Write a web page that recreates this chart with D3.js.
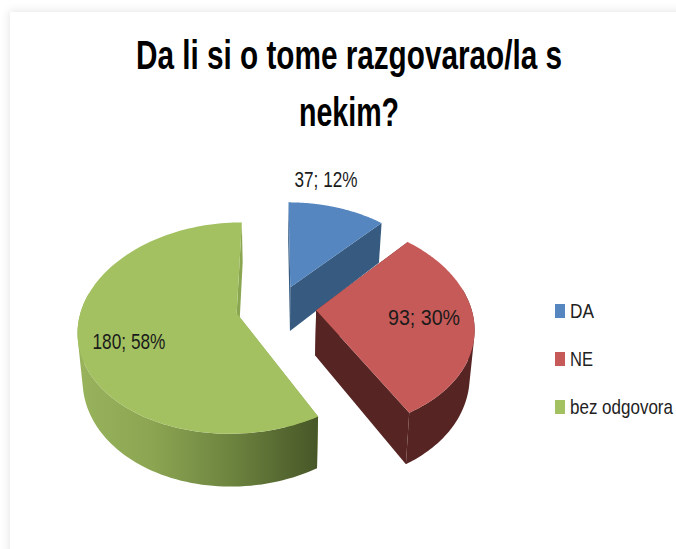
<!DOCTYPE html>
<html><head><meta charset="utf-8">
<style>html,body{margin:0;padding:0;background:#fff}svg{display:block}text{font-family:"Liberation Sans",sans-serif}</style>
<script src="https://d3js.org/d3.v7.min.js"></script></head>
<body><div id="c"></div>
<script>
const titleLines = ["Da li si o tome razgovarao/la s", "nekim?"];
const categories = ["DA", "NE", "bez odgovora"];
const values = [37, 93, 180];
const percents = [12, 30, 58];
const topColors = ["#5586c0", "#c65a58", "#a3c161"];
const wallColors = ["#365a80", "#562422", "#8ba650"];

const W = 676, H = 549;
const svg = d3.select("#c").append("svg").attr("width", W).attr("height", H);
const defs = svg.append("defs");
const sh = defs.append("filter").attr("id","sh").attr("x","-5%").attr("y","-5%").attr("width","110%").attr("height","110%");
sh.append("feDropShadow").attr("dx",-1).attr("dy",-1).attr("stdDeviation",4).attr("flood-color","#000").attr("flood-opacity",0.1);
svg.append("rect").attr("width",W).attr("height",H).attr("fill","#fff");
svg.append("rect").attr("x",10).attr("y",12).attr("width",W+40).attr("height",H+40).attr("fill","#fff").attr("filter","url(#sh)");

const grad = defs.append("linearGradient").attr("id","gw").attr("gradientUnits","userSpaceOnUse")
  .attr("x1",80).attr("x2",319).attr("y1",0).attr("y2",0);
[[0,"#98b35c"],[0.3,"#8ba552"],[0.62,"#6e8540"],[1,"#475627"]].forEach(d=>
  grad.append("stop").attr("offset",d[0]).attr("stop-color",d[1]));

// projection of the pie plane
const cx = 276, cy = 307.5, Rx = 155, Ry = 102, k = 0.14, kx = 0.15, depth = 45, shrink = 0.975, explodeX = 0.26, explodeY = 0.22;
const xS = d3.scaleLinear().domain([0,1]).range([0,Rx]);
const yS = d3.scaleLinear().domain([0,1]).range([0,Ry]);
function proj(u, v, low) {
  const s = 1/(1-k*v), sx = 1/(1-kx*v);
  let x = xS(u)*sx, y = yS(v)*s;
  if (low) { x *= shrink; y += depth*s; }
  return [cx+x, cy+y];
}
const arcs = d3.pie().sort(null).value(d=>d)(values);
const line = d3.line();
const order = [0,2,1];
const N = 120;
function pts(d, low) {
  const mid = (d.startAngle+d.endAngle)/2, ox = explodeX*Math.sin(mid), oy = -explodeY*Math.cos(mid);
  return {
    apex: proj(ox, oy, low),
    arc: d3.range(N+1).map(i=>{
      const t = d.startAngle+(d.endAngle-d.startAngle)*i/N;
      return proj(ox+Math.sin(t), oy-Math.cos(t), low);
    }),
    front: d3.range(N).map(i=>{
      const t = d.startAngle+(d.endAngle-d.startAngle)*(i+.5)/N;
      return -Math.cos(t) > -0.2;
    })
  };
}
const g = svg.append("g");
order.forEach(i=>{
  const d = arcs[i], a = pts(d,false), b = pts(d,true);
  const wall = wallColors[i];
  // radial walls
  g.append("path").attr("fill",wall).attr("d",line([a.apex,a.arc[0],b.arc[0],b.apex])+"Z");
  g.append("path").attr("fill",wall).attr("d",line([a.apex,a.arc[N],b.arc[N],b.apex])+"Z");
  // outer wall: a quad per arc step in one path, same winding, so the silhouette is closed with no seams
  let p = "";
  d3.range(N).forEach(j=>{
    if (!a.front[j]) return;
    let q = [a.arc[j],a.arc[j+1],b.arc[j+1],b.arc[j]];
    if (d3.polygonArea(q) < 0) q = q.reverse();
    p += line(q)+"Z";
  });
  g.append("path").attr("fill",i===2?"url(#gw)":wall).attr("fill-rule","nonzero").attr("d",p);
  // top face
  g.append("path").attr("fill",topColors[i]).attr("d",line([a.apex].concat(a.arc))+"Z");
});

// narrow text: natural width squeezed horizontally to the reference's width
function squeeze(sel, widths) {
  sel.each(function(d,i){
    const t = d3.select(this), x = +t.attr("data-x"), y = +t.attr("data-y");
    const sx = widths[i]/this.getComputedTextLength();
    t.attr("transform",`translate(${x},${y}) scale(${sx},1)`);
  });
}

// title
const titleY = [69, 126], titleLen = [426, 100], titleX = 349;
svg.selectAll("text.t").data(titleLines).join("text").attr("class","t")
  .attr("data-x",titleX).attr("data-y",(d,i)=>titleY[i]).attr("text-anchor","middle")
  .attr("font-size",41).attr("font-weight","bold").attr("fill","#000")
  .text(d=>d).call(squeeze,titleLen);

// data labels
const lblPos = [[326,179],[424,317],[129,341]], lblLen = [63,72,73];
svg.selectAll("text.l").data(values).join("text").attr("class","l")
  .attr("data-x",(d,i)=>lblPos[i][0]).attr("data-y",(d,i)=>lblPos[i][1]+8).attr("text-anchor","middle")
  .attr("font-size",22).attr("fill","#1a1a1a")
  .text((d,i)=>`${d}; ${percents[i]}%`).call(squeeze,lblLen);

// legend
const legY = d3.scalePoint().domain(categories).range([311,407]);
const legLen = [24,23,103];
svg.selectAll("rect.k").data(categories).join("rect").attr("class","k")
  .attr("x",555).attr("y",d=>legY(d)-7).attr("width",10).attr("height",14).attr("fill",(d,i)=>topColors[i]);
svg.selectAll("text.k").data(categories).join("text").attr("class","k")
  .attr("data-x",570).attr("data-y",d=>legY(d)+7).attr("font-size",21).attr("fill","#222")
  .text(d=>d).call(squeeze,legLen);
</script></body></html>
